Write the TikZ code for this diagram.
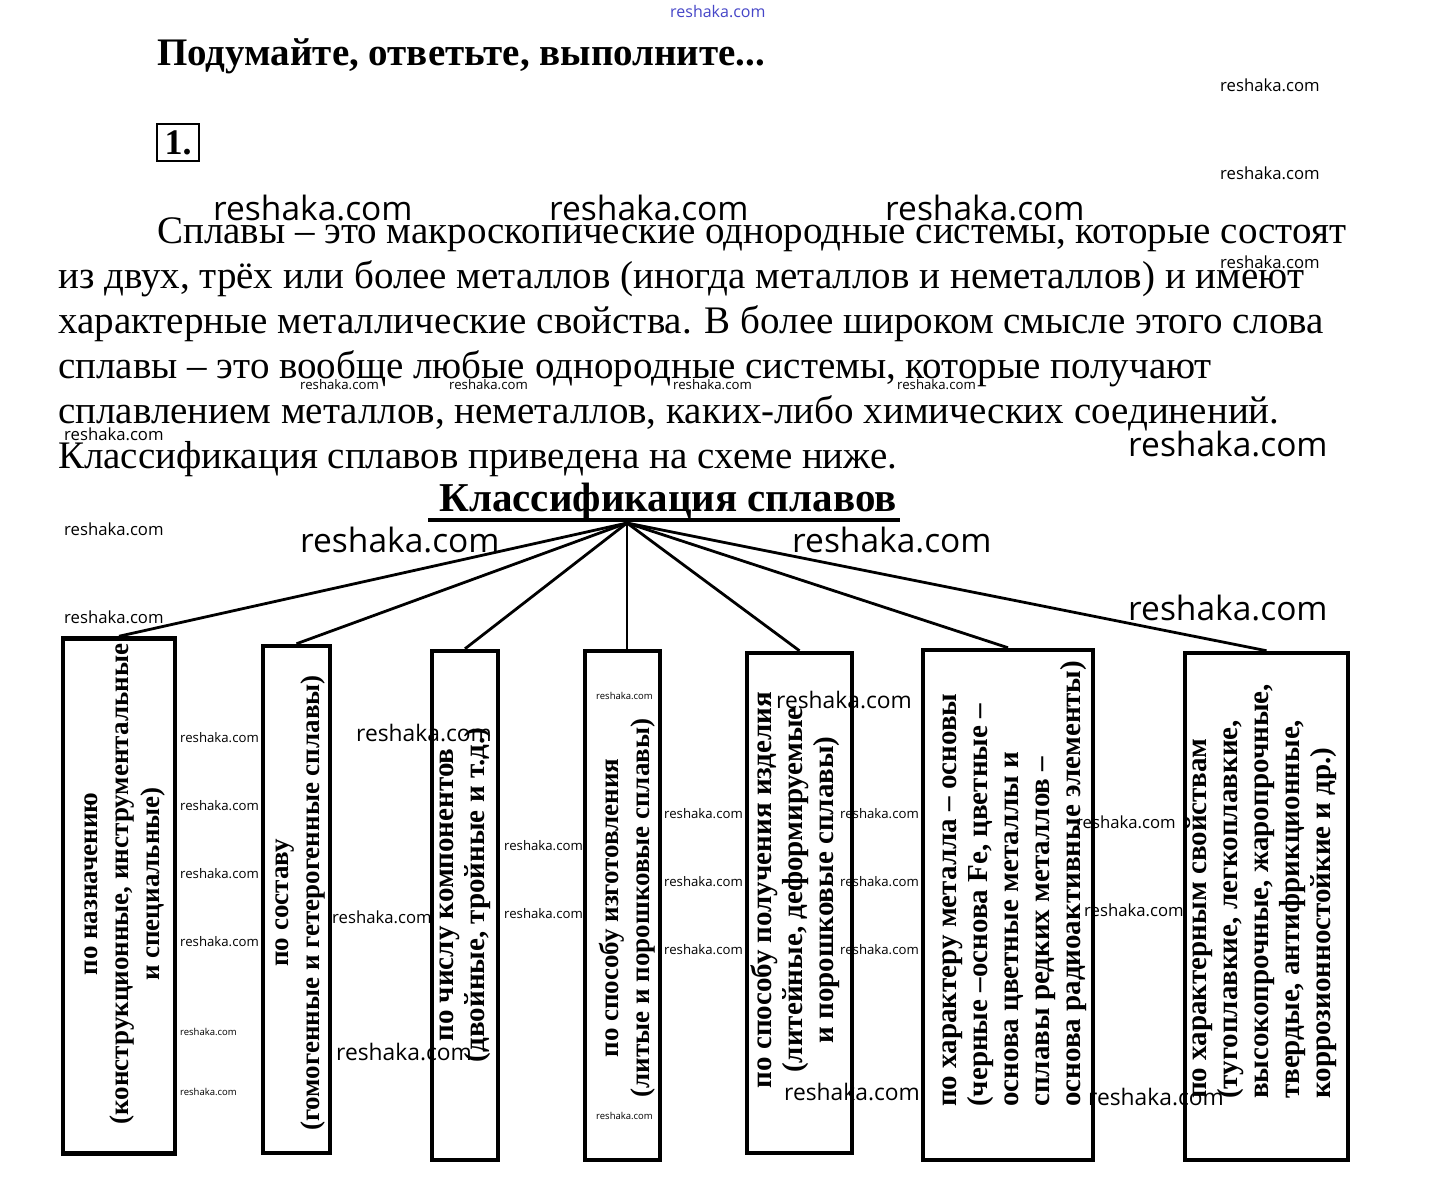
\documentclass[tikz,border=0pt]{standalone}
\usepackage{fontspec}
\setmainfont{Liberation Serif}
\newfontfamily\wmfont{Open Sans}
\begin{document}
\begin{tikzpicture}[x=1pt,y=-1pt,
  box/.style={draw, line width=4.5pt, inner sep=0pt},
  btext/.style={rotate=90, font=\bfseries\fontsize{27}{31}\selectfont, inner sep=0pt},
  bigtext/.style={rotate=90, font=\bfseries\fontsize{29}{31}\selectfont, inner sep=0pt},
  body/.style={anchor=base west, inner sep=0pt, font=\fontsize{39}{45}\selectfont},
  wm/.style={anchor=mid west, inner sep=0pt, yshift={-0.28*#1}, font=\wmfont\fontsize{#1}{#1}\selectfont},
  conn/.style={line width=2.8pt}]
\fill[white] (0,0) rectangle (1437,1179);
\useasboundingbox (0,0) rectangle (1437,1179);

% heading
\node[anchor=base west, inner sep=0pt, font=\bfseries\fontsize{39}{40}\selectfont] (head) at (157,65) {Подумайте, ответьте, выполните...};
\node[draw, line width=2pt, inner sep=0pt, minimum width=42, minimum height=37, font=\bfseries\fontsize{36}{36}\selectfont] (num) at (178,142.5) {1.};

% body text
\node[body] (l1) at (157,243) {Сплавы – это макроскопические однородные системы, которые состоят};
\node[body] (l2) at (58,288) {из двух, трёх или более металлов (иногда металлов и неметаллов) и имеют};
\node[body] (l3) at (58,333) {характерные металлические свойства. В более широком смысле этого слова};
\node[body] (l4) at (58,378) {сплавы – это вообще любые однородные системы, которые получают};
\node[body] (l5) at (58,423) {сплавлением металлов, неметаллов, каких-либо химических соединений.};
\node[body] (l6) at (58,468) {Классификация сплавов приведена на схеме ниже.};

% title
\node[anchor=base, inner sep=0pt, font=\bfseries\fontsize{41}{44}\selectfont] (title) at (668,511) {Классификация сплавов};
\draw[line width=4pt] (428,520) -- (900,520);
\coordinate (hub) at (627,523);

% boxes
\node[box, minimum width=112, minimum height=515] (b1) at (119,896) {};
\node[box, minimum width=67, minimum height=507] (b2) at (296.5,899.5) {};
\node[box, minimum width=66, minimum height=509] (b3) at (465,905.5) {};
\node[box, minimum width=75, minimum height=509] (b4) at (622.5,905.5) {};
\node[box, minimum width=105, minimum height=500] (b5) at (799.5,903) {};
\node[box, minimum width=170, minimum height=510] (b6) at (1008,905) {};
\node[box, minimum width=163, minimum height=507] (b7) at (1266.5,906.5) {};

% connectors
\draw[conn] (hub) -- (b1.north);
\draw[conn] (hub) -- (b2.north);
\draw[conn] (hub) -- (b3.north);
\draw[conn] (hub) -- (hub |- b4.north);
\draw[conn] (hub) -- (b5.north);
\draw[conn] (hub) -- (b6.north);
\draw[conn] (hub) -- (b7.north);

% box texts
\node[btext, align=center] (t1) at (125,884) {по назначению\\(конструкционные, инструментальные\\и специальные)};
\node[btext, align=center] (t2) at (301,903) {по составу\\(гомогенные и гетерогенные сплавы)};
\node[bigtext, align=center] (t3) at (465,895) {по числу компонентов\\(двойные, тройные и т.д.)};
\node[btext, align=center] (t4) at (627,908) {по способу изготовления\\(литые и порошковые сплавы)};
\node[bigtext, align=center] (t5) at (795,890) {по способу получения изделия\\(литейные, деформируемые\\и порошковые сплавы)};
\node[bigtext, align=left, anchor=west] (t6) at (1015,1107) {по характеру металла – основы\\(черные –основа Fe, цветные –\\основа цветные металлы и\\сплавы редких металлов –\\основа радиоактивные элементы)};
\node[bigtext, align=left, anchor=west] (t7) at (1262,1099) {по характерным свойствам\\(тугоплавкие, легкоплавкие,\\высокопрочные, жаропрочные,\\твердые, антифрикционные,\\коррозионностойкие и др.)};

% watermarks
\node[wm=16, text={rgb,255:red,70;green,70;blue,200}] (w0) at (670,11) {reshaka.com};
\node[wm=16.7] (w1) at (1220,85) {reshaka.com};
\node[wm=16.7] (w2) at (1220,173) {reshaka.com};
\node[wm=16.7] (w3) at (1220,262) {reshaka.com};
\node[wm=16.7] (w4) at (64,434) {reshaka.com};
\node[wm=16.7] (w5) at (64,529) {reshaka.com};
\node[wm=16.7] (w6) at (64,617) {reshaka.com};
\node[wm=16.7] (w7) at (1076,822) {reshaka.com};
\node[wm=16.7] (w8) at (1084,910) {reshaka.com};
\node[wm=16.7] (w9) at (332,917) {reshaka.com};
\node[wm=33.5] (w10) at (213,209) {reshaka.com};
\node[wm=33.5] (w11) at (549,209) {reshaka.com};
\node[wm=33.5] (w12) at (885,209) {reshaka.com};
\node[wm=33.5] (w13) at (1128,445) {reshaka.com};
\node[wm=33.5] (w14) at (300,541) {reshaka.com};
\node[wm=33.5] (w15) at (792,541) {reshaka.com};
\node[wm=33.5] (w16) at (1128,609) {reshaka.com};
\node[wm=13.2] (w17) at (300,383) {reshaka.com};
\node[wm=13.2] (w18) at (449,383) {reshaka.com};
\node[wm=13.2] (w19) at (673,383) {reshaka.com};
\node[wm=13.2] (w20) at (897,383) {reshaka.com};
\node[wm=13.2] (w21) at (180,736) {reshaka.com};
\node[wm=13.2] (w22) at (180,804) {reshaka.com};
\node[wm=13.2] (w23) at (180,872) {reshaka.com};
\node[wm=13.2] (w24) at (180,940) {reshaka.com};
\node[wm=13.2] (w25) at (504,844) {reshaka.com};
\node[wm=13.2] (w26) at (504,912) {reshaka.com};
\node[wm=13.2] (w27) at (664,812) {reshaka.com};
\node[wm=13.2] (w28) at (664,880) {reshaka.com};
\node[wm=13.2] (w29) at (664,948) {reshaka.com};
\node[wm=13.2] (w30) at (840,812) {reshaka.com};
\node[wm=13.2] (w31) at (840,880) {reshaka.com};
\node[wm=13.2] (w32) at (840,948) {reshaka.com};
\node[wm=9.5] (w33) at (180,1031) {reshaka.com};
\node[wm=9.5] (w34) at (180,1091) {reshaka.com};
\node[wm=9.5] (w35) at (596,695) {reshaka.com};
\node[wm=9.5] (w36) at (596,1115) {reshaka.com};
\node[wm=22.8] (w37) at (356,733) {reshaka.com};
\node[wm=22.8] (w38) at (336,1052) {reshaka.com};
\node[wm=22.8] (w39) at (776,700) {reshaka.com};
\node[wm=22.8] (w40) at (784,1092) {reshaka.com};
\node[wm=22.8] (w41) at (1088,1097) {reshaka.com};
\end{tikzpicture}
\end{document}
